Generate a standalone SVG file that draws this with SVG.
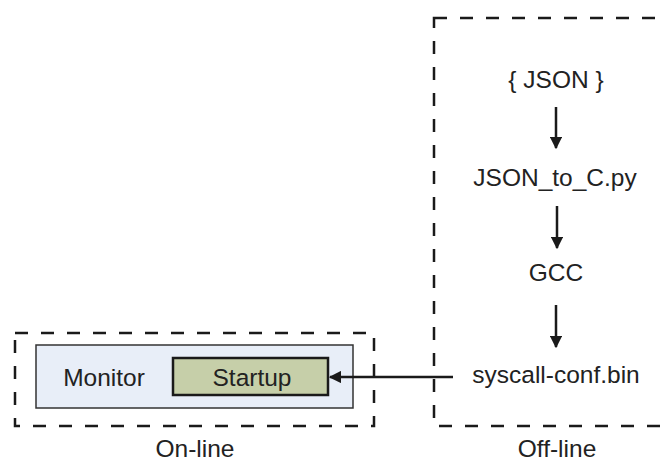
<svg xmlns="http://www.w3.org/2000/svg" width="665" height="467" viewBox="0 0 665 467">
<defs>
<style>
.t{font-family:"Liberation Sans","DejaVu Sans",sans-serif;font-size:24.5px;fill:#222;text-anchor:middle}
.dash{fill:none;stroke:#1a1a1a;stroke-width:2.5;stroke-dasharray:13 13}
.ln{stroke:#1a1a1a;stroke-width:2.5;fill:none}
</style>
<marker id="ah" viewBox="0 0 10 10" refX="9" refY="5" markerWidth="5" markerHeight="5" markerUnits="strokeWidth" orient="auto">
<path d="M0,0 L10,5 L0,10 z" fill="#1a1a1a"/>
</marker>
</defs>
<rect width="665" height="467" fill="#fff"/>
<g id="online">
<rect class="dash" x="15" y="333" width="359" height="93"/>
<text class="t" x="195" y="457">On-line</text>
</g>
<g id="offline">
<rect class="dash" x="434" y="18" width="260" height="408"/>
<text class="t" x="557" y="457">Off-line</text>
</g>
<g id="monitor">
<rect x="36" y="345" width="317" height="63" fill="#e8eef8" stroke="#333" stroke-width="1.5"/>
<text class="t" x="104" y="386">Monitor</text>
</g>
<g id="startup">
<rect x="173" y="358" width="155" height="37" fill="#c6cfa9" stroke="#1a1a1a" stroke-width="2.5"/>
<text class="t" x="252" y="386">Startup</text>
</g>
<g id="json"><text class="t" x="556" y="88">{ JSON }</text></g>
<g id="json2c"><text class="t" x="555" y="186">JSON_to_C.py</text></g>
<g id="gcc"><text class="t" x="556" y="281">GCC</text></g>
<g id="bin"><text class="t" x="556" y="383">syscall-conf.bin</text></g>
<g id="connectors">
<line class="ln" x1="556" y1="107" x2="556" y2="148" marker-end="url(#ah)"/>
<line class="ln" x1="557" y1="206" x2="557" y2="248" marker-end="url(#ah)"/>
<line class="ln" x1="556" y1="305" x2="556" y2="347" marker-end="url(#ah)"/>
<line class="ln" x1="453" y1="377" x2="330" y2="377" marker-end="url(#ah)"/>
</g>
</svg>
